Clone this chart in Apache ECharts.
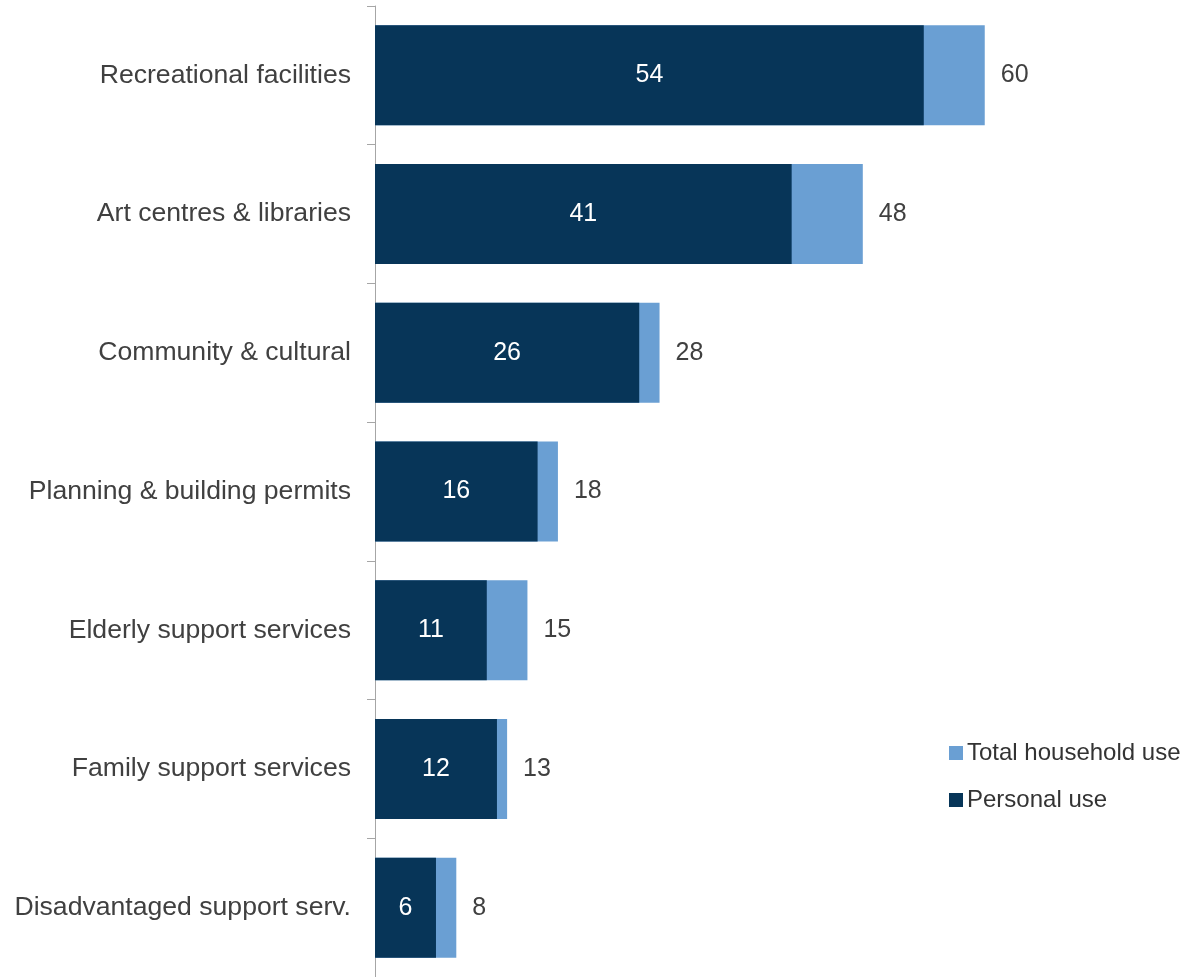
<!DOCTYPE html>
<html>
<head>
<meta charset="utf-8">
<script src="https://cdn.jsdelivr.net/npm/echarts@6/dist/echarts.min.js"></script>
<style>
  html, body { margin: 0; padding: 0; background: #ffffff; }
  #chart { width: 1188px; height: 977px; }
</style>
</head>
<body>
<div id="chart"></div>
<script>
// Service categories, top to bottom
const categories = [
  'Recreational facilities',
  'Art centres & libraries',
  'Community & cultural',
  'Planning & building permits',
  'Elderly support services',
  'Family support services',
  'Disadvantaged support serv.'
];
// Share of respondents (%)
const totalHousehold = [60, 48, 28, 18, 15, 13, 8];
const personalUse = [54, 41, 26, 16, 11, 12, 6];

const FONT = '"Liberation Sans", Arial, sans-serif';
const chart = echarts.init(document.getElementById('chart'));

chart.setOption({
  animation: false,
  textStyle: { fontFamily: FONT },
  grid: { left: 375, top: 6, width: 817, height: 972, containLabel: false },
  legend: {
    orient: 'vertical',
    left: 949,
    top: 741,
    padding: 0,
    itemWidth: 14,
    itemHeight: 14,
    itemGap: 23,
    icon: 'rect',
    textStyle: { fontSize: 24, color: '#333333', fontFamily: FONT, padding: [0, 0, 0, -1] },
    data: ['Total household use', 'Personal use']
  },
  xAxis: {
    type: 'value',
    min: 0,
    max: 80,
    show: false
  },
  yAxis: {
    type: 'category',
    inverse: true,
    data: categories,
    axisLine: { show: true, lineStyle: { color: '#a6a6a6', width: 1 } },
    axisTick: { show: true, length: 8, lineStyle: { color: '#a6a6a6' } },
    axisLabel: { fontSize: 26.6, color: '#404040', margin: 24, fontFamily: FONT },
    splitLine: { show: false }
  },
  series: [
    {
      name: 'Total household use',
      type: 'bar',
      data: totalHousehold,
      barWidth: 100,
      itemStyle: { color: '#6a9fd3' },
      label: {
        show: true,
        position: 'right',
        distance: 16,
        fontSize: 25,
        color: '#404040',
        fontFamily: FONT
      }
    },
    {
      name: 'Personal use',
      type: 'bar',
      data: personalUse,
      barWidth: 100,
      barGap: '-100%',
      itemStyle: { color: '#073558' },
      label: {
        show: true,
        position: 'inside',
        fontSize: 25,
        color: '#ffffff',
        fontFamily: FONT
      }
    }
  ]
});
</script>
</body>
</html>
